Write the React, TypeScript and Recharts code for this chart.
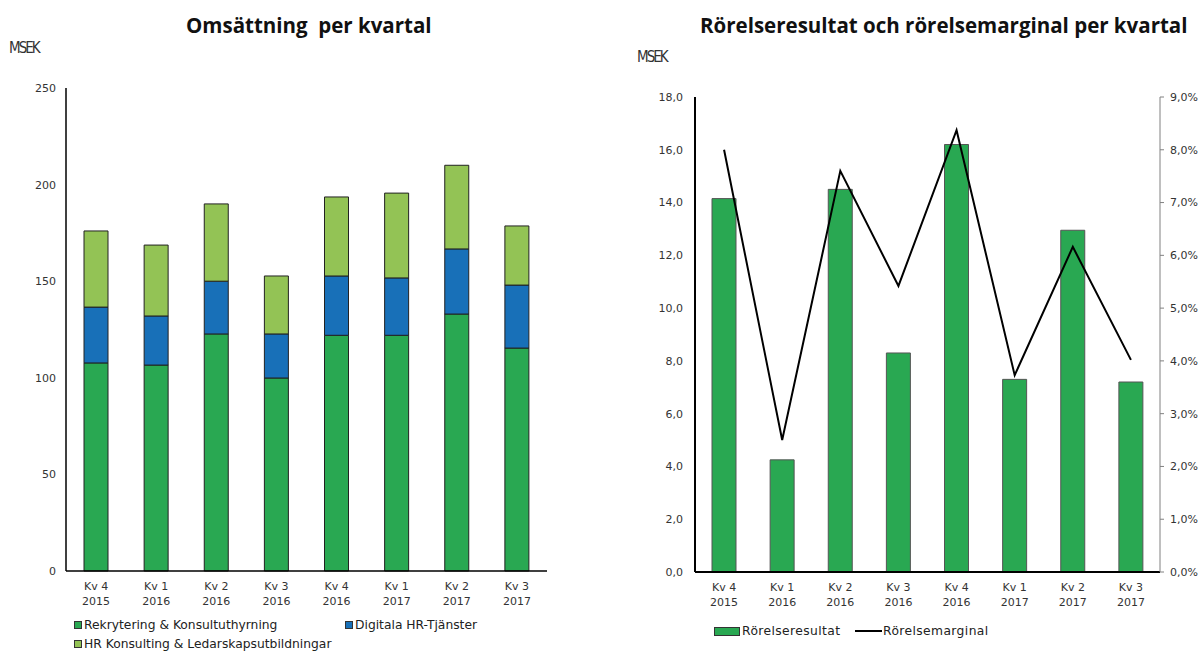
import React from "react";
import { Bar, BarChart, ComposedChart, Line, XAxis, YAxis } from "recharts";

// Kategorier (kvartal)
const QUARTERS = ["Kv 4", "Kv 1", "Kv 2", "Kv 3", "Kv 4", "Kv 1", "Kv 2", "Kv 3"];
const YEARS = ["2015", "2016", "2016", "2016", "2016", "2017", "2017", "2017"];

// Omsättning, MSEK
const REKRYTERING = [107.7, 106.6, 122.7, 99.9, 122, 122, 133, 115.4];
const DIGITALA = [28.9, 25.4, 27.3, 22.8, 30.7, 29.7, 33.7, 32.6];
const HR_KONSULTING = [39.4, 36.7, 40, 30, 40.9, 43.9, 43.3, 30.6];
const REVENUE_TICKS = [0, 50, 100, 150, 200, 250];

// Rörelseresultat (MSEK) och rörelsemarginal (%)
const EBIT = [14.15, 4.25, 14.5, 8.3, 16.2, 7.3, 12.95, 7.2];
const MARGIN = [8.0, 2.5, 7.6, 5.42, 8.37, 3.73, 6.16, 4.02];
const EBIT_TICKS = [0, 2, 4, 6, 8, 10, 12, 14, 16, 18];
const MARGIN_TICKS = [0, 1, 2, 3, 4, 5, 6, 7, 8, 9];

const GREEN = "#29A852";
const BLUE = "#1870B8";
const LIGHT_GREEN = "#93C355";
const TEXT = "#333";
const TICK_FONT = "'DejaVu Sans', Verdana, sans-serif";

const revenueData = QUARTERS.map((q, i) => ({
  idx: i,
  rek: REKRYTERING[i],
  dig: DIGITALA[i],
  hr: HR_KONSULTING[i],
}));

const ebitData = QUARTERS.map((q, i) => ({
  idx: i,
  ebit: EBIT[i],
  margin: MARGIN[i],
}));

const comma = (v: number) => v.toFixed(1).replace(".", ",");

function QuarterTick(props: any) {
  const { x, y, payload } = props;
  const i = payload.value as number;
  return (
    <text x={x} y={y} textAnchor="middle" fill={TEXT} fontSize={11} fontFamily={TICK_FONT}>
      <tspan x={x} dy={11}>{QUARTERS[i]}</tspan>
      <tspan x={x} dy={15}>{YEARS[i]}</tspan>
    </text>
  );
}

const titleStyle: React.CSSProperties = {
  position: "absolute",
  fontFamily: "'Open Sans', sans-serif",
  fontWeight: 700,
  fontSize: 20.5,
  color: "#111",
  whiteSpace: "nowrap",
};

const msekStyle: React.CSSProperties = {
  position: "absolute",
  fontFamily: "'DejaVu Sans Condensed', 'DejaVu Sans', sans-serif",
  fontSize: 15,
  letterSpacing: -2,
  color: "#333",
};

const legendText: React.CSSProperties = {
  position: "absolute",
  fontFamily: TICK_FONT,
  fontSize: 12.3,
  color: "#222",
  whiteSpace: "nowrap",
  display: "flex",
  alignItems: "center",
};

function Swatch({ color, w = 8, h = 8 }: { color: string; w?: number; h?: number }) {
  return (
    <span
      style={{
        display: "inline-block",
        width: w,
        height: h,
        background: color,
        border: "1px solid #333",
        marginRight: 2,
        boxSizing: "border-box",
      }}
    />
  );
}

export default function App() {
  return (
    <div
      style={{
        position: "absolute",
        left: 0,
        top: 0,
        width: 1203,
        height: 651,
        background: "#fff",
        overflow: "hidden",
      }}
    >
      {/* Vänster: omsättning */}
      <div style={{ position: "absolute", left: 0, top: 0 }}>
        <BarChart
          width={600}
          height={651}
          data={revenueData}
          margin={{ top: 88, right: 53, left: 0, bottom: 40 }}
          barCategoryGap={0}
        >
          <XAxis
            dataKey="idx"
            height={40}
            tickLine={false}
            axisLine={{ stroke: "#000", strokeWidth: 1.5 }}
            tick={<QuarterTick />}
            interval={0}
          />
          <YAxis
            width={66}
            domain={[0, 250]}
            ticks={REVENUE_TICKS}
            tickLine={false}
            tickSize={0}
            tickMargin={10}
            axisLine={{ stroke: "#000", strokeWidth: 1.5 }}
            tick={{ fill: TEXT, fontSize: 11, fontFamily: TICK_FONT }}
          />
          <Bar dataKey="rek" stackId="a" fill={GREEN} stroke="#222" strokeWidth={1} barSize={24} isAnimationActive={false} />
          <Bar dataKey="dig" stackId="a" fill={BLUE} stroke="#222" strokeWidth={1} barSize={24} isAnimationActive={false} />
          <Bar dataKey="hr" stackId="a" fill={LIGHT_GREEN} stroke="#222" strokeWidth={1} barSize={24} isAnimationActive={false} />
        </BarChart>
      </div>
      <div style={{ ...titleStyle, left: 186, top: 11 }}>Omsättning&nbsp; per kvartal</div>
      <div style={{ ...msekStyle, left: 9, top: 39 }}>MSEK</div>
      <div style={{ ...legendText, left: 74, top: 618 }}>
        <Swatch color={GREEN} />Rekrytering &amp; Konsultuthyrning
      </div>
      <div style={{ ...legendText, left: 345, top: 618 }}>
        <Swatch color={BLUE} />Digitala HR-Tjänster
      </div>
      <div style={{ ...legendText, left: 74, top: 637 }}>
        <Swatch color={LIGHT_GREEN} />HR Konsulting &amp; Ledarskapsutbildningar
      </div>

      {/* Höger: rörelseresultat och marginal */}
      <div style={{ position: "absolute", left: 620, top: 0 }}>
        <ComposedChart
          width={583}
          height={651}
          data={ebitData}
          margin={{ top: 97, right: 0, left: 0, bottom: 39 }}
          barCategoryGap={0}
        >
          <XAxis
            dataKey="idx"
            height={40}
            tickLine={false}
            axisLine={{ stroke: "#000", strokeWidth: 2 }}
            tick={<QuarterTick />}
            interval={0}
          />
          <YAxis
            yAxisId="left"
            width={75}
            domain={[0, 18]}
            ticks={EBIT_TICKS}
            tickLine={false}
            tickSize={0}
            tickMargin={12}
            tickFormatter={comma}
            axisLine={{ stroke: "#000", strokeWidth: 2 }}
            tick={{ fill: TEXT, fontSize: 11, fontFamily: TICK_FONT }}
          />
          <YAxis
            yAxisId="right"
            orientation="right"
            width={43}
            domain={[0, 9]}
            ticks={MARGIN_TICKS}
            tickSize={4}
            tickMargin={6}
            tickLine={{ stroke: "#808080" }}
            tickFormatter={(v: number) => `${comma(v)}%`}
            axisLine={{ stroke: "#808080", strokeWidth: 1 }}
            tick={{ fill: TEXT, fontSize: 11, fontFamily: TICK_FONT }}
          />
          <Bar
            yAxisId="left"
            dataKey="ebit"
            fill={GREEN}
            stroke="#555"
            strokeWidth={1}
            barSize={24}
            isAnimationActive={false}
          />
          <Line
            yAxisId="right"
            dataKey="margin"
            type="linear"
            stroke="#000"
            strokeWidth={2}
            dot={false}
            isAnimationActive={false}
          />
        </ComposedChart>
      </div>
      <div style={{ ...titleStyle, left: 700, top: 11 }}>
        Rörelseresultat och rörelsemarginal per kvartal
      </div>
      <div style={{ ...msekStyle, left: 637, top: 48 }}>MSEK</div>
      <div style={{ ...legendText, left: 714, top: 624, letterSpacing: 0.4 }}>
        <Swatch color={GREEN} w={26} h={9} />Rörelseresultat
      </div>
      <div style={{ ...legendText, left: 855, top: 624, letterSpacing: 0.4 }}>
        <span style={{ display: "inline-block", width: 27, height: 2, background: "#000", marginRight: 1 }} />
        Rörelsemarginal
      </div>
    </div>
  );
}
